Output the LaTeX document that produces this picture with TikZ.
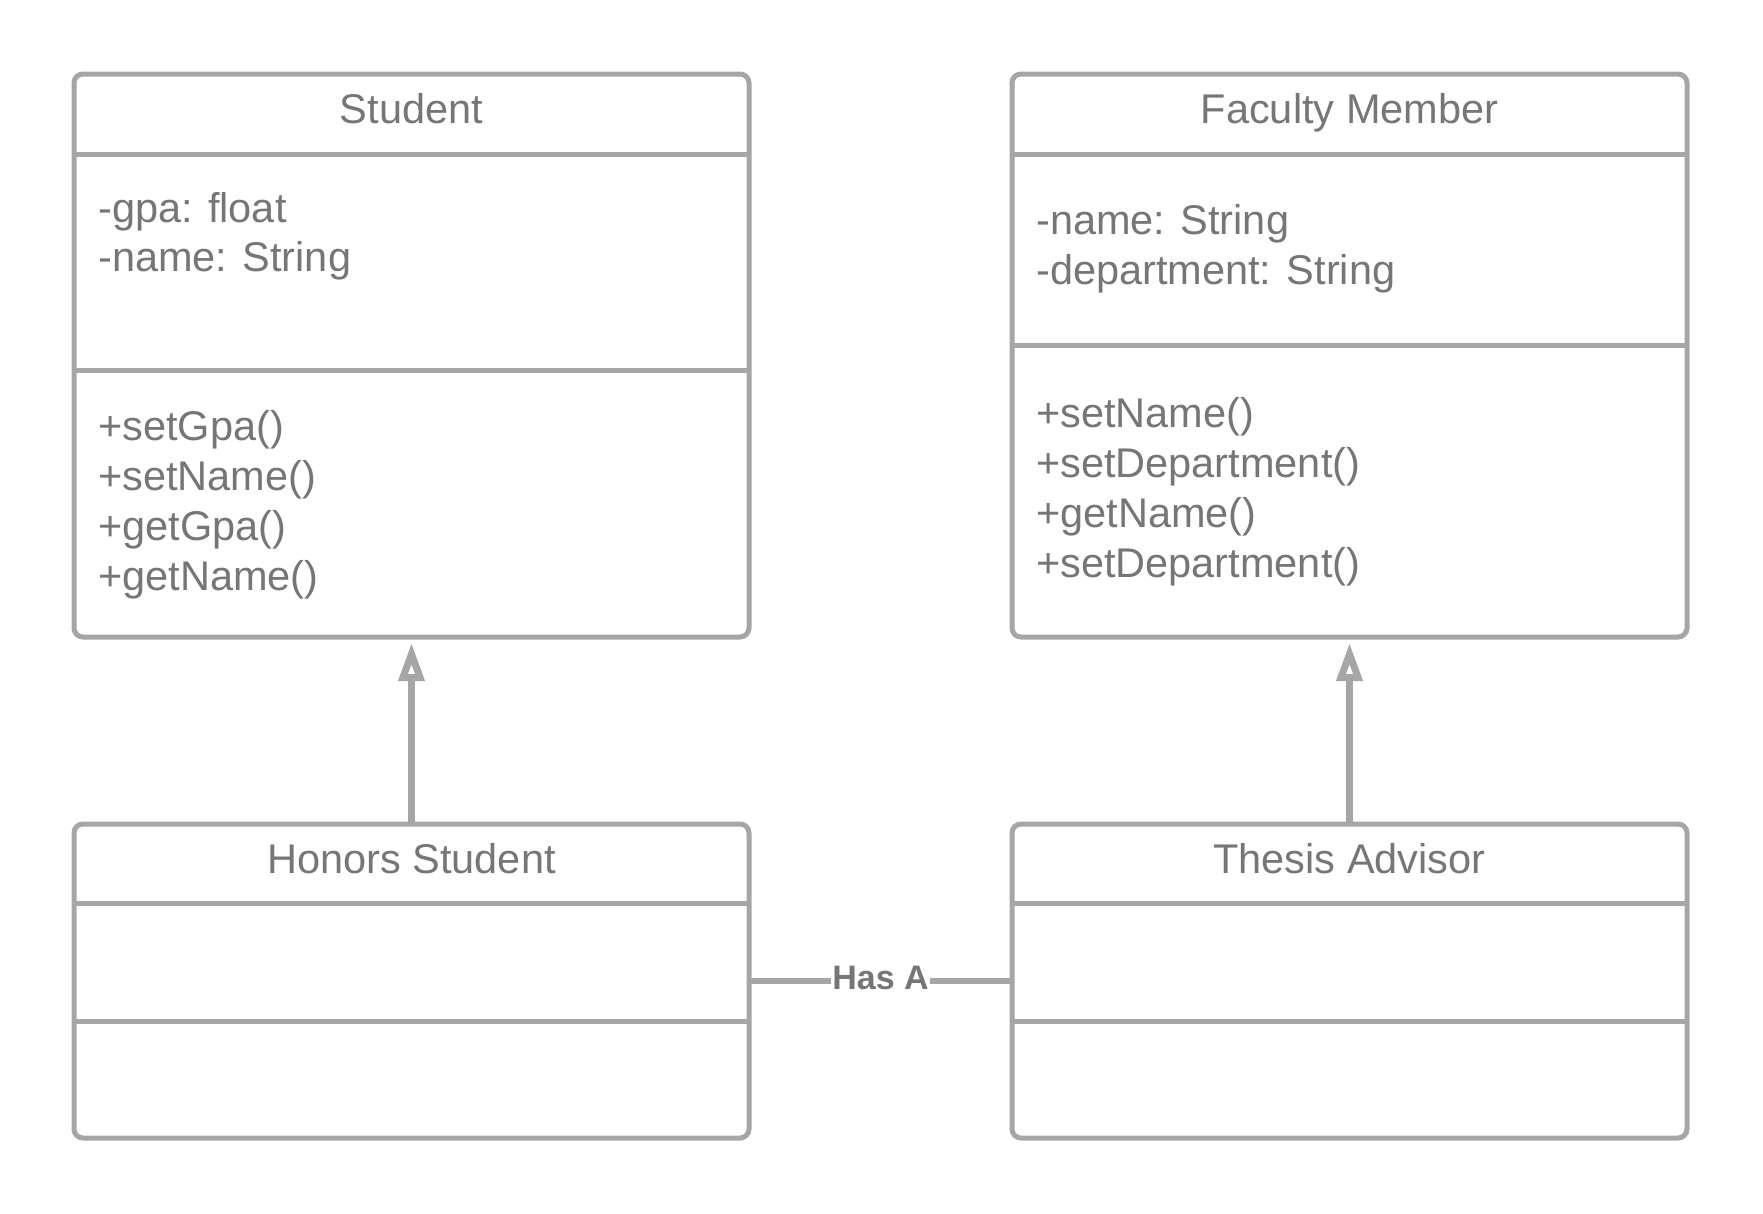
\documentclass[tikz,border=0pt]{standalone}
\usepackage{fontspec}
\setmainfont{Liberation Sans}
\usetikzlibrary{arrows.meta}
\definecolor{linegray}{RGB}{166,166,166}
\definecolor{textgray}{RGB}{118,118,118}
\begin{document}
\begin{tikzpicture}[x=1pt,y=-1pt,
  classbox/.style={draw=linegray, line width=5pt, rounded corners=9pt, inner sep=0pt, outer sep=0pt, minimum width=675pt, anchor=north west},
  sepline/.style={draw=linegray, line width=5pt},
  titletext/.style={text=textgray, font=\fontsize{41.5}{50}\selectfont, anchor=base, inner sep=0pt},
  membertext/.style={text=textgray, font=\fontsize{41.5}{50}\selectfont, anchor=base west, inner sep=0pt},
  inherit/.style={draw=linegray, line width=6.5pt, -{Triangle[open, length=38pt, width=25pt, line width=7pt]}, shorten >=6pt},
  assoc/.style={draw=linegray, line width=6pt},
  assoclabel/.style={fill=white, text=textgray, font=\bfseries\fontsize{34}{40}\selectfont, inner xsep=1.5pt, inner ysep=2pt, yshift=3pt}
]
\useasboundingbox (0,0) rectangle (1763,1213);
\fill[white] (0,0) rectangle (1763,1213);

% Student
\node[classbox, minimum height=563pt] (student) at (74,74) {};
\draw[sepline] (74,154) -- (749,154);
\draw[sepline] (74,370) -- (749,370);
\node[titletext] (studentT) at (411.5,123) {Student};
\node[membertext] (s1) at (98,222) {-gpa: float};
\node[membertext] (s2) at (98,271) {-name: String};
\node[membertext] (s3) at (98,440) {+setGpa()};
\node[membertext] (s4) at (98,490) {+setName()};
\node[membertext] (s5) at (98,540) {+getGpa()};
\node[membertext] (s6) at (98,590) {+getName()};

% Faculty Member
\node[classbox, minimum height=563pt] (faculty) at (1012,74) {};
\draw[sepline] (1012,154) -- (1687,154);
\draw[sepline] (1012,345) -- (1687,345);
\node[titletext] (facultyT) at (1349.5,123) {Faculty Member};
\node[membertext] (f1) at (1036,234) {-name: String};
\node[membertext] (f2) at (1036,284) {-department: String};
\node[membertext] (f3) at (1036,427) {+setName()};
\node[membertext] (f4) at (1036,477) {+setDepartment()};
\node[membertext] (f5) at (1036,527) {+getName()};
\node[membertext] (f6) at (1036,577) {+setDepartment()};

% Honors Student
\node[classbox, minimum height=314pt] (honors) at (74,824) {};
\draw[sepline] (74,903) -- (749,903);
\draw[sepline] (74,1021) -- (749,1021);
\node[titletext] (honorsT) at (411.5,873) {Honors Student};

% Thesis Advisor
\node[classbox, minimum height=314pt] (thesis) at (1012,824) {};
\draw[sepline] (1012,903) -- (1687,903);
\draw[sepline] (1012,1021) -- (1687,1021);
\node[titletext] (thesisT) at (1349.5,873) {Thesis Advisor};

% connectors
\draw[inherit] (honors.north) -- (student.south);
\draw[inherit] (thesis.north) -- (faculty.south);
\draw[assoc] (honors.east) -- node[assoclabel] (hasa) {Has A} (thesis.west);
\end{tikzpicture}
\end{document}
